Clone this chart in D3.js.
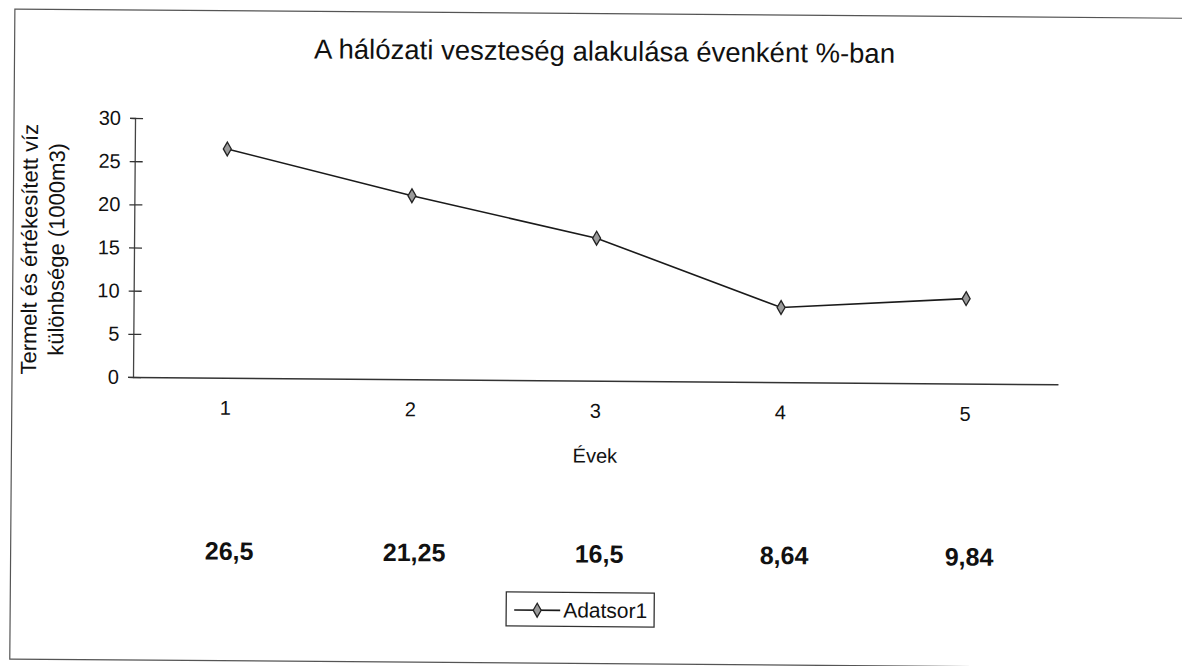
<!DOCTYPE html>
<html>
<head>
<meta charset="utf-8">
<script src="https://cdn.jsdelivr.net/npm/d3@7"></script>
<style>
  html, body { margin: 0; padding: 0; background: #fff; }
  svg { display: block; }
  text { font-family: "Liberation Sans", Arial, sans-serif; fill: #111; }
</style>
</head>
<body>
<svg id="chart" width="1182" height="666"></svg>
<script>
// ---- data ----
const chartTitle = "A hálózati veszteség alakulása évenként %-ban";
const categories = ["1", "2", "3", "4", "5"];
const values = [26.5, 21.25, 16.5, 8.64, 9.84];
const valueLabels = ["26,5", "21,25", "16,5", "8,64", "9,84"];
const yTicks = [0, 5, 10, 15, 20, 25, 30];
const xTitle = "Évek";
const yTitleLines = ["Termelt és értékesített víz", "különbsége (1000m3)"];
const seriesName = "Adatsor1";

// ---- layout ----
const svg = d3.select("#chart");
const plot = { left: 133, right: 1058, top: 118, bottom: 377 };
// slight skew, as in the scanned original
const root = svg.append("g").attr("transform", `rotate(0.45, ${plot.left}, ${plot.bottom})`);

// outer frame
root.append("rect")
  .attr("x", 12).attr("y", 10).attr("width", 1200).attr("height", 650)
  .attr("fill", "none").attr("stroke", "#555").attr("stroke-width", 1.2);

const x = d3.scaleBand().domain(categories).range([plot.left, plot.right]);
const y = d3.scaleLinear().domain([0, 30]).range([plot.bottom, plot.top]);

// title
root.append("text")
  .attr("x", 602).attr("y", 57)
  .attr("text-anchor", "middle")
  .style("font-size", "27.5px")
  .text(chartTitle);

// y axis
const yAxis = root.append("g")
  .attr("transform", `translate(${plot.left},0)`)
  .call(d3.axisLeft(y).tickValues(yTicks).tickSize(5).tickPadding(9));
yAxis.select(".domain").attr("stroke", "#444").attr("stroke-width", 1.3);
yAxis.selectAll(".tick line").attr("x1", 8).attr("stroke", "#333").attr("stroke-width", 1.3);
yAxis.selectAll(".tick text")
  .style("font-size", "20px").style("font-family", "'Liberation Sans', Arial, sans-serif").attr("fill", "#111");

// x axis
const xAxis = root.append("g")
  .attr("transform", `translate(0,${plot.bottom})`)
  .call(d3.axisBottom(x).tickSize(0).tickPadding(23));
xAxis.select(".domain").attr("stroke", "#333").attr("stroke-width", 1.5);
xAxis.selectAll(".tick text")
  .style("font-size", "20px").style("font-family", "'Liberation Sans', Arial, sans-serif").attr("fill", "#111");

// x title
root.append("text")
  .attr("x", (plot.left + plot.right) / 2).attr("y", 459)
  .attr("text-anchor", "middle")
  .style("font-size", "20px")
  .text(xTitle);

// y title (two lines, rotated)
const yt = root.append("text")
  .attr("transform", "translate(36,250) rotate(-90)")
  .attr("text-anchor", "middle")
  .style("font-size", "22px");
yTitleLines.forEach((t, i) => {
  yt.append("tspan").attr("x", 0).attr("dy", i === 0 ? 0 : 27).text(t);
});

// line
const cx = d => x(d.cat) + x.bandwidth() / 2;
const pts = categories.map((c, i) => ({ cat: c, v: values[i], label: valueLabels[i] }));
root.append("path")
  .datum(pts)
  .attr("fill", "none")
  .attr("stroke", "#1a1a1a")
  .attr("stroke-width", 1.6)
  .attr("d", d3.line().x(cx).y(d => y(d.v)));

const diamond = d3.symbol().type(d3.symbolDiamond).size(55);
root.selectAll(".mk")
  .data(pts).enter().append("path")
  .attr("class", "mk")
  .attr("transform", d => `translate(${cx(d)},${y(d.v)})`)
  .attr("d", diamond)
  .attr("fill", "#9a9a9a")
  .attr("stroke", "#222")
  .attr("stroke-width", 1.3);

// value labels row
root.selectAll(".vl")
  .data(pts).enter().append("text")
  .attr("class", "vl")
  .attr("x", d => cx(d) + 5)
  .attr("y", 559)
  .attr("text-anchor", "middle")
  .style("font-size", "25px")
  .style("font-weight", "bold")
  .text(d => d.label);

// legend
const lg = root.append("g").attr("transform", "translate(508,589)");
lg.append("rect").attr("width", 148).attr("height", 34)
  .attr("fill", "#fff").attr("stroke", "#333").attr("stroke-width", 1.3);
lg.append("line").attr("x1", 8).attr("x2", 54).attr("y1", 18).attr("y2", 18)
  .attr("stroke", "#1a1a1a").attr("stroke-width", 1.6);
lg.append("path").attr("transform", "translate(31,18)").attr("d", diamond)
  .attr("fill", "#9a9a9a").attr("stroke", "#222").attr("stroke-width", 1.3);
lg.append("text").attr("x", 57).attr("y", 25)
  .style("font-size", "21px").text(seriesName);
</script>
</body>
</html>
